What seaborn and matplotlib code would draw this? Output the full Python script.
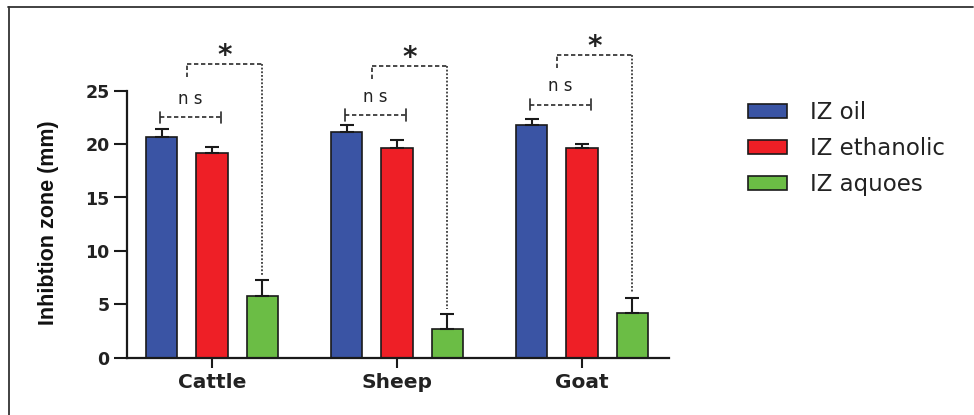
import numpy as np
import pandas as pd
import matplotlib
matplotlib.use("Agg")
import matplotlib.pyplot as plt
import seaborn as sns
from matplotlib.lines import Line2D
from matplotlib.patches import Patch

# Inhibition zone (mm): mean and SD per animal source and extract type
categories = ["Cattle", "Sheep", "Goat"]
series = ["IZ oil", "IZ ethanolic", "IZ aquoes"]
oil = [20.7, 21.1, 21.8]
ethanolic = [19.2, 19.6, 19.6]
aqueous = [5.8, 2.7, 4.2]
oil_sd = [0.75, 0.7, 0.55]
ethanolic_sd = [0.55, 0.75, 0.4]
aqueous_sd = [1.5, 1.4, 1.4]
y_ticks = [0, 5, 10, 15, 20, 25]

# significance brackets (data units)
ns_level = [22.5, 22.7, 23.7]
star_level = [27.5, 27.3, 28.3]

colors = ["#3A54A4", "#EE1F26", "#6BBD45"]
ink = "#1a1a1a"

sns.set_theme(style="ticks")
plt.rcParams["font.family"] = ["DejaVu Sans"]

means = dict(zip(series, [oil, ethanolic, aqueous]))
sds = dict(zip(series, [oil_sd, ethanolic_sd, aqueous_sd]))
df = pd.DataFrame({
    "animal": categories * len(series),
    "extract": [s for s in series for _ in categories],
    "zone": oil + ethanolic + aqueous,
})

fig = plt.figure(figsize=(9.74, 4.15), dpi=100)
W, H = 974, 415
ax = fig.add_axes([127 / W, 1 - 357.7 / H, (669 - 127) / W, 320.4 / H])

sns.barplot(data=df, x="animal", y="zone", hue="extract", order=categories,
            hue_order=series, palette=colors, width=0.816, gap=0.38,
            errorbar=None, edgecolor=ink, linewidth=1.2, saturation=1,
            legend=False, ax=ax)
bar_sets = list(ax.containers)

# upward-only SD bars
for j, cont in enumerate(bar_sets):
    xs = [p.get_x() + p.get_width() / 2 for p in cont]
    ys = [p.get_height() for p in cont]
    sd = sds[series[j]]
    ax.errorbar(xs, ys, yerr=[np.zeros(len(sd)), sd], fmt="none",
                ecolor=ink, elinewidth=1.5, capsize=4.7, capthick=1.5)

dash = (0, (2.6, 1.6))
dot = (0, (1.1, 1.1))
line_kw = dict(color="#2a2a2a", lw=1.2, clip_on=False)
for i in range(len(categories)):
    bx = [cont[i].get_x() + cont[i].get_width() / 2 for cont in bar_sets]
    tops = [means[s][i] + sds[s][i] for s in series]

    # oil vs ethanolic: not significant
    x0, x1 = bx[0] - 0.01, bx[1] + 0.05
    y = ns_level[i]
    ax.plot([x0, x1], [y, y], linestyle=dash, **line_kw)
    ax.plot([x0, x0], [y - 0.55, y + 0.55], color="#2a2a2a", lw=1.2, clip_on=False)
    ax.plot([x1, x1], [y - 0.55, y + 0.55], color="#2a2a2a", lw=1.2, clip_on=False)
    ax.text((x0 + x1) / 2, y + 1.75, "n s", ha="center", va="center",
            fontsize=12, color="#222")

    # oil/ethanolic vs aqueous: significant
    xl = (bx[0] + bx[1]) / 2
    xr = bx[2]
    ys = star_level[i]
    ax.plot([xl, xl], [ys - 1.2, ys], linestyle=dash, **line_kw)
    ax.plot([xl, xr], [ys, ys], linestyle=dash, **line_kw)
    ax.plot([xr, xr], [ys, tops[2] + 0.45], linestyle=dot, **line_kw)
    ax.text((xl + xr) / 2, ys, "*", ha="center", va="baseline",
            fontsize=20, fontweight="bold", color="#222", clip_on=False)

ax.set_xlim(-0.46, 2.47)
ax.set_ylim(0, 30)
ax.set_yticks(y_ticks)
ax.set_yticklabels([str(t) for t in y_ticks])
sns.despine(ax=ax)
ax.spines["left"].set_bounds(0, 25)
for side in ("left", "bottom"):
    ax.spines[side].set_linewidth(1.6)
    ax.spines[side].set_color(ink)
ax.tick_params(axis="y", length=9.5, width=1.5, pad=3, labelsize=12.5,
               colors=ink, labelcolor="#222")
ax.tick_params(axis="x", length=7, width=1.5, pad=4, labelsize=14.5,
               colors=ink, labelcolor="#222")
for lab in ax.get_xticklabels() + ax.get_yticklabels():
    lab.set_fontweight("bold")

ax.set_xlabel("")
ax.set_ylabel("Inhibtion zone (mm)", family=["Liberation Sans", "DejaVu Sans"],
              fontweight="bold", fontsize=15.5, color="#111")
ax.yaxis.label.set_va("center")
ax.yaxis.set_label_coords((49 - 127) / 542, (357.7 - 223) / 320.4)

handles = [Patch(facecolor=c, edgecolor=ink, linewidth=1.2, label=s)
           for c, s in zip(colors, series)]
fig.legend(handles=handles, loc="upper left", bbox_to_anchor=(748 / W, 1 - 101 / H),
           frameon=False, fontsize=16.5, handlelength=1.7, handleheight=0.57,
           handletextpad=1.0, labelspacing=0.56, borderpad=0, borderaxespad=0,
           labelcolor="#222")

# panel frame (top and left edges)
fig.add_artist(Line2D([8 / W, 973 / W], [1 - 7.5 / H, 1 - 7.5 / H],
                      transform=fig.transFigure, color="#333", lw=1.3))
fig.add_artist(Line2D([9 / W, 9 / W], [1 - 7.5 / H, 0],
                      transform=fig.transFigure, color="#333", lw=1.3))

fig.savefig("out.png", dpi=100, facecolor="white")
